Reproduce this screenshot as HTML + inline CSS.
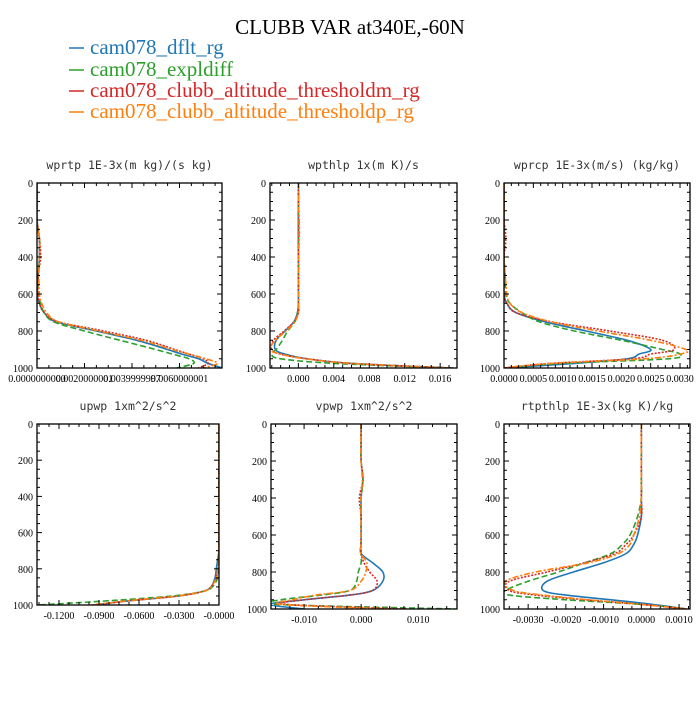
<!DOCTYPE html>
<html><head><meta charset="utf-8">
<style>
body{margin:0;background:#fff;width:700px;height:700px;overflow:hidden}
svg text{font-family:"Liberation Serif",serif}
.pt{font-family:"DejaVu Sans Mono","Liberation Mono",monospace;font-size:11.5px;fill:#333}
.tk{font-size:10px;fill:#000}
</style></head>
<body>
<svg id="chart" width="700" height="700" xmlns="http://www.w3.org/2000/svg">
<text x="350" y="34" text-anchor="middle" font-size="21">CLUBB VAR at340E,-60N</text>
<g>
<g><line x1="69" y1="48" x2="84" y2="48" stroke="#1f77b4" stroke-width="1.5"/><text x="90" y="54" font-size="21" fill="#1f77b4">cam078_dflt_rg</text></g>
<g><line x1="69" y1="70" x2="84" y2="70" stroke="#2ca02c" stroke-width="1.5"/><text x="90" y="76" font-size="21" fill="#2ca02c">cam078_expldiff</text></g>
<g><line x1="69" y1="91" x2="84" y2="91" stroke="#d62728" stroke-width="1.5"/><text x="90" y="97" font-size="21" fill="#d62728">cam078_clubb_altitude_thresholdm_rg</text></g>
<g><line x1="69" y1="112" x2="84" y2="112" stroke="#ff7f0e" stroke-width="1.5"/><text x="90" y="118" font-size="21" fill="#ff7f0e">cam078_clubb_altitude_thresholdp_rg</text></g>
</g>
</svg>
<script>
// shared vertical levels (hPa)
const levels = [0,100,200,300,400,500,600,650,700,750,800,850,900,925,950,975,1000];
const seriesNames = ['dflt','expldiff','thresholdm','thresholdp'];
const yTicks = [0,200,400,600,800,1000];

const wprtpBlue   = [0,0,0,0.0001,0.0001,0.00005,0,0.0001,0.0003,0.0008,0.0025,0.0042,0.0055,0.0061,0.0068,0.0072,0.0078];
const wprtpGreen  = [0,0,0,0.0001,0.0001,0.00005,0.00005,0.00015,0.0003,0.0007,0.002,0.0035,0.005,0.0057,0.0064,0.0066,0.0059];
const wprtpRed    = [0,0,0,0.0001,0.00015,0.00005,0.00005,0.0001,0.0003,0.0009,0.0028,0.0046,0.0058,0.0064,0.007,0.0072,0.0068];
const wprtpOrange = [0,0,0,0.0001,0.0001,0.00008,0.0001,0.0002,0.0004,0.0009,0.0026,0.0044,0.0057,0.0064,0.0071,0.0076,0.007];
const wprtpTicks = [0,0.002,0.004,0.006];
const wprtpTickLabels = ['0.0000000000','0.0020000001','0.0039999997','0.0060000001'];

const wpthlpBlue   = [0,0,0,0,0,0,0,0,-0.0001,-0.0005,-0.0015,-0.0025,-0.0026,-0.0015,0.001,0.006,0.0175];
const wpthlpGreen  = [0,0,0,0,0,0,0,0,-0.0001,-0.0004,-0.0012,-0.0018,-0.0025,-0.003,-0.002,0.004,0.017];
const wpthlpRed    = [0,0,0,0,0,0,0,0,0,-0.0005,-0.0016,-0.0028,-0.003,-0.002,0.001,0.006,0.017];
const wpthlpOrange = [0,0,0.0001,0.0001,0,0,0,0,0,-0.0004,-0.0014,-0.0026,-0.0032,-0.002,0.0008,0.006,0.017];
const wpthlpTicks = [0,0.004,0.008,0.012,0.016];
const wpthlpTickLabels = ['0.000','0.004','0.008','0.012','0.016'];

const wprcpBlue   = [0,0,0,0,0,0,0,0.00005,0.0002,0.0007,0.0014,0.0021,0.0025,0.0023,0.0021,0.0012,0];
const wprcpGreen  = [0,0,0,0,0,0.00002,0.00003,0.0001,0.0003,0.0006,0.0012,0.002,0.0027,0.003,0.0028,0.001,0];
const wprcpRed    = [0,0,0,0.00003,0,0,0,0.00005,0.0002,0.0008,0.0018,0.0027,0.0029,0.0025,0.0022,0.0008,0];
const wprcpOrange = [0,0,0,0,0,0.00002,0.00005,0.0001,0.0003,0.0008,0.0016,0.0025,0.0031,0.003,0.0024,0.0008,0];
const wprcpTicks = [0,0.0005,0.001,0.0015,0.002,0.0025,0.003];
const wprcpTickLabels = ['0.0000','0.0005','0.0010','0.0015','0.0020','0.0025','0.0030'];

const upwpBlue   = [0,0,0,0,0,0,0,0,0,-0.001,-0.002,-0.003,-0.006,-0.012,-0.03,-0.065,-0.093];
const upwpGreen  = [0,0,0,0,0,0,0,0,0,0,0,-0.001,-0.005,-0.012,-0.035,-0.08,-0.135];
const upwpRed    = [0,0,0,0,0,0,0,0,0,0,-0.001,-0.002,-0.006,-0.012,-0.03,-0.065,-0.095];
const upwpOrange = [0,0,0,0,0,0,0,0,0,0,-0.001,-0.002,-0.006,-0.012,-0.031,-0.066,-0.096];
const upwpTicks = [-0.12,-0.09,-0.06,-0.03,0];
const upwpTickLabels = ['-0.1200','-0.0900','-0.0600','-0.0300','-0.0000'];

const vpwpBlue   = [0,0,0,0.0003,0,0,0,0,0,0.002,0.0038,0.0038,0.002,-0.002,-0.01,-0.016,-0.01];
const vpwpGreen  = [0,0,0,0.0003,0,0,0,0,0,0,-0.0005,-0.0008,-0.002,-0.007,-0.014,-0.015,0.0165];
const vpwpRed    = [0,0,0,0.0003,-0.0003,0,0,0,0,0.0005,0.0015,0.0028,0.002,-0.002,-0.01,-0.013,0.008];
const vpwpOrange = [0,0,0,0.0002,0,0,0,0,0,0.001,0.0008,0,-0.002,-0.008,-0.012,-0.014,0.005];
const vpwpTicks = [-0.01,0,0.01];
const vpwpTickLabels = ['-0.010','0.000','0.010'];

const rtpthlpBlue   = [0,0,0,0,0,0,-0.0001,-0.0002,-0.0004,-0.001,-0.0018,-0.0025,-0.0026,-0.002,-0.0008,0.0003,0.0012];
const rtpthlpGreen  = [0,0,0,0,0,-0.0001,-0.0003,-0.0005,-0.0008,-0.0015,-0.0022,-0.003,-0.0036,-0.0035,-0.002,0,0.0012];
const rtpthlpRed    = [0,0,0,0,0,0,-0.0002,-0.0004,-0.0007,-0.0015,-0.0025,-0.0035,-0.0035,-0.0028,-0.0015,0,0.0012];
const rtpthlpOrange = [0,0,0,0,0,-0.00005,-0.0002,-0.0003,-0.0006,-0.0014,-0.0028,-0.0036,-0.0034,-0.0026,-0.0014,0,0.0012];
const rtpthlpTicks = [-0.003,-0.002,-0.001,0,0.001];
const rtpthlpTickLabels = ['-0.0030','-0.0020','-0.0010','0.0000','0.0010'];

const colors = ['#1f77b4','#2ca02c','#d62728','#ff7f0e'];
const dashes = ['none','6,3','2,1.5','6,2,2,2'];

const panels = [
 {name:'wprtp',title:'wprtp  1E-3x(m kg)/(s kg)',x0:37,x1:222,y0:183,y1:368,xmin:0,xmax:0.00779,data:[wprtpBlue,wprtpGreen,wprtpRed,wprtpOrange],ticks:wprtpTicks,labels:wprtpTickLabels},
 {name:'wpthlp',title:'wpthlp  1x(m K)/s',x0:270,x1:457,y0:183,y1:368,xmin:-0.0032,xmax:0.0179,data:[wpthlpBlue,wpthlpGreen,wpthlpRed,wpthlpOrange],ticks:wpthlpTicks,labels:wpthlpTickLabels},
 {name:'wprcp',title:'wprcp  1E-3x(m/s) (kg/kg)',x0:504,x1:690,y0:183,y1:368,xmin:0,xmax:0.00317,data:[wprcpBlue,wprcpGreen,wprcpRed,wprcpOrange],ticks:wprcpTicks,labels:wprcpTickLabels},
 {name:'upwp',title:'upwp  1xm^2/s^2',x0:37,x1:219,y0:424,y1:605,xmin:-0.1365,xmax:0,data:[upwpBlue,upwpGreen,upwpRed,upwpOrange],ticks:upwpTicks,labels:upwpTickLabels},
 {name:'vpwp',title:'vpwp  1xm^2/s^2',x0:271,x1:457,y0:424,y1:609,xmin:-0.0158,xmax:0.0168,data:[vpwpBlue,vpwpGreen,vpwpRed,vpwpOrange],ticks:vpwpTicks,labels:vpwpTickLabels},
 {name:'rtpthlp',title:'rtpthlp  1E-3x(kg K)/kg',x0:504,x1:690,y0:424,y1:609,xmin:-0.00364,xmax:0.00129,data:[rtpthlpBlue,rtpthlpGreen,rtpthlpRed,rtpthlpOrange],ticks:rtpthlpTicks,labels:rtpthlpTickLabels}
];

const NS='http://www.w3.org/2000/svg';
const svg=document.getElementById('chart');
function mk(tag,attrs,parent){const e=document.createElementNS(NS,tag);for(const k in attrs)e.setAttribute(k,attrs[k]);parent.appendChild(e);return e;}
function smoothPath(pts){
  let d='M'+pts[0][0].toFixed(1)+','+pts[0][1].toFixed(1);
  for(let i=0;i<pts.length-1;i++){
    const p0=pts[Math.max(0,i-1)],p1=pts[i],p2=pts[i+1],p3=pts[Math.min(pts.length-1,i+2)];
    const c1x=p1[0]+(p2[0]-p0[0])/6,c1y=p1[1]+(p2[1]-p0[1])/6;
    const c2x=p2[0]-(p3[0]-p1[0])/6,c2y=p2[1]-(p3[1]-p1[1])/6;
    d+=' C'+c1x.toFixed(1)+','+c1y.toFixed(1)+' '+c2x.toFixed(1)+','+c2y.toFixed(1)+' '+p2[0].toFixed(1)+','+p2[1].toFixed(1);
  }
  return d;
}

panels.forEach(p=>{
  const xs=v=>p.x0+(v-p.xmin)/(p.xmax-p.xmin)*(p.x1-p.x0);
  const ys=v=>p.y0+v/1000*(p.y1-p.y0);
  const g=mk('g',{},svg);
  
  
  const t=mk('text',{x:(p.x0+p.x1)/2,y:p.y0-14,'text-anchor':'middle',class:'pt'},g);
  
  
  t.textContent=p.title;
  const clip='clip-'+p.name;
  const cp=mk('clipPath',{id:clip},g);
  mk('rect',{x:p.x0,y:p.y0,width:p.x1-p.x0,height:p.y1-p.y0},cp);
  p.data.forEach((arr,i)=>{
    const pts=arr.map((v,j)=>[xs(v),ys(levels[j])]);
    const path=mk('path',{d:smoothPath(pts),fill:'none',stroke:colors[i],'stroke-width':1.6,'stroke-dasharray':dashes[i],'clip-path':'url(#'+clip+')'},g);
    
    
  });
  const fr=mk('rect',{x:p.x0,y:p.y0,width:p.x1-p.x0,height:p.y1-p.y0,fill:'none',stroke:'#000','stroke-width':1.3},g);
  
  
  for(let v=0;v<=1000;v+=50){
    const y=ys(v),L=(v%200===0)?5:3;
    mk('line',{x1:p.x0,y1:y,x2:p.x0+L,y2:y,stroke:'#000','stroke-width':1},g);
    mk('line',{x1:p.x1,y1:y,x2:p.x1-L,y2:y,stroke:'#000','stroke-width':1},g);
  }
  yTicks.forEach(v=>{
    const tl=mk('text',{x:p.x0-4,y:ys(v)+4,'text-anchor':'end',class:'tk'},g);
    
    
    tl.textContent=v;
  });
  const step=p.ticks[1]-p.ticks[0];
  for(let k=-10;k<=40;k++){
    const v=p.ticks[0]+k*step/4;
    if(v<p.xmin-1e-12||v>p.xmax+1e-12)continue;
    const x=xs(v),L=(k%4===0)?5:3;
    mk('line',{x1:x,y1:p.y1,x2:x,y2:p.y1-L,stroke:'#000','stroke-width':1},g);
    mk('line',{x1:x,y1:p.y0,x2:x,y2:p.y0+L,stroke:'#000','stroke-width':1},g);
  }
  p.ticks.forEach((v,i)=>{
    const tl=mk('text',{x:xs(v),y:p.y1+14,'text-anchor':'middle',class:'tk'},g);
    
    
    tl.textContent=p.labels[i];
  });
});
</script>
</body></html>
